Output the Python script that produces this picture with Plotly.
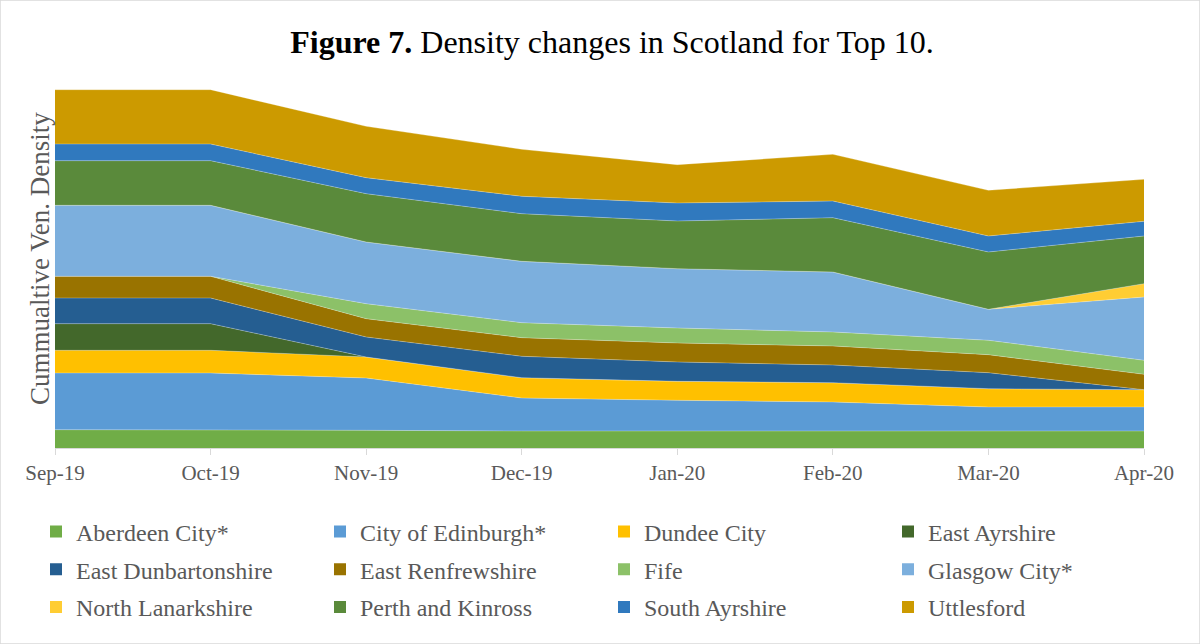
import plotly.graph_objects as go

# Months on the x axis
months = ["Sep-19", "Oct-19", "Nov-19", "Dec-19", "Jan-20", "Feb-20", "Mar-20", "Apr-20"]

# Ven. density per area, stacked bottom to top in this order
aberdeen_city = [18.3, 18.3, 17.7, 17.0, 17.0, 17.7, 17.7, 17.0]
city_of_edinburgh = [56.7, 56.7, 52.3, 33.0, 30.7, 28.3, 23.3, 24.0]
dundee_city = [22.7, 22.7, 21.0, 20.3, 19.0, 19.3, 18.3, 17.3]
east_ayrshire = [26.6, 26.6, 0.0, 0.0, 0.0, 0.0, 0.0, 0.0]
east_dunbartonshire = [25.7, 25.7, 20.0, 21.4, 19.3, 17.7, 16.0, 0.0]
east_renfrewshire = [21.7, 21.7, 18.3, 18.6, 19.0, 19.0, 18.0, 15.4]
fife = [0.0, 0.0, 15.0, 15.0, 15.0, 14.0, 14.4, 14.0]
glasgow_city = [71.0, 71.0, 61.7, 61.4, 59.3, 60.0, 31.0, 63.3]
north_lanarkshire = [0.0, 0.0, 0.0, 0.0, 0.0, 0.0, 0.0, 13.3]
perth_and_kinross = [44.6, 44.6, 48.3, 47.6, 47.7, 54.3, 57.3, 47.7]
south_ayrshire = [16.7, 16.7, 16.0, 17.4, 18.0, 16.7, 16.0, 14.7]
uttlesford = [54.3, 54.3, 51.4, 47.0, 38.3, 46.7, 45.7, 42.0]

series = [
    ("Aberdeen City*", aberdeen_city, "#70AD47"),
    ("City of Edinburgh*", city_of_edinburgh, "#5B9BD5"),
    ("Dundee City", dundee_city, "#FFC000"),
    ("East Ayrshire", east_ayrshire, "#43682B"),
    ("East Dunbartonshire", east_dunbartonshire, "#255E91"),
    ("East Renfrewshire", east_renfrewshire, "#997300"),
    ("Fife", fife, "#8CC168"),
    ("Glasgow City*", glasgow_city, "#7CAFDD"),
    ("North Lanarkshire", north_lanarkshire, "#FFCD33"),
    ("Perth and Kinross", perth_and_kinross, "#5A8A3B"),
    ("South Ayrshire", south_ayrshire, "#3079BE"),
    ("Uttlesford", uttlesford, "#CC9A00"),
]

SERIF = "Liberation Serif, Times New Roman, serif"
GREY_TEXT = "#595959"
AXIS_GREY = "#D9D9D9"

# Figure geometry (px)
W, H = 1200, 644
M_L, M_R, M_T, M_B = 55, 56, 60, 196
PW, PH = W - M_L - M_R, H - M_T - M_B
BASE_Y = H - M_B

fig = go.Figure()

# Stacked areas
for name, vals, color in series:
    fig.add_trace(go.Scatter(
        x=months, y=vals, name=name, mode="lines",
        stackgroup="density", legendgroup=name, showlegend=False,
        line=dict(width=0.6, color="rgba(255,255,255,0.45)"),
        fillcolor=color,
    ))

# Square legend keys, four per row, one legend per row
legend_ids = ["legend", "legend2", "legend3"]
for i, (name, vals, color) in enumerate(series):
    fig.add_trace(go.Scatter(
        x=[None], y=[None], name=name, mode="markers", legendgroup=name,
        legend=legend_ids[i // 4],
        marker=dict(symbol="square", size=12, color=color),
    ))

row_centers = [533, 570.7, 608.3]
legend_style = dict(
    orientation="h", xref="paper", yref="paper",
    x=(36 - M_L) / PW, xanchor="left", yanchor="top",
    entrywidth=239, entrywidthmode="pixels",
    font=dict(family=SERIF, size=24, color=GREY_TEXT),
    traceorder="normal", bgcolor="rgba(0,0,0,0)",
)
legends = {}
for lid, cy in zip(legend_ids, row_centers):
    legends[lid] = dict(legend_style, y=(BASE_Y - (cy - 23.5)) / PH)

fig.update_layout(
    width=W, height=H,
    margin=dict(l=M_L, r=M_R, t=M_T, b=M_B),
    paper_bgcolor="white", plot_bgcolor="white",
    title=dict(
        text="<b>Figure 7.</b> Density changes in Scotland for Top 10.",
        font=dict(family=SERIF, size=32, color="black"),
        x=0.51, xanchor="center", xref="container",
        y=1 - 42 / H, yanchor="middle", yref="container",
    ),
    xaxis=dict(
        type="category", range=[0, 7],
        showline=True, linecolor=AXIS_GREY, linewidth=1,
        ticks="outside", ticklen=6, tickcolor=AXIS_GREY,
        tickfont=dict(family=SERIF, size=21, color=GREY_TEXT),
        showgrid=False, zeroline=False,
    ),
    yaxis=dict(
        range=[0, PH], showticklabels=False, showgrid=False,
        zeroline=False, showline=False,
    ),
    annotations=[dict(
        text="Cummualtive Ven. Density", textangle=-90,
        xref="paper", yref="paper",
        x=(40 - M_L) / PW, y=(BASE_Y - 259) / PH,
        xanchor="center", yanchor="middle", showarrow=False,
        font=dict(family=SERIF, size=27, color=GREY_TEXT),
    )],
    showlegend=True,
    shapes=[dict(type="rect", xref="paper", yref="paper",
                 x0=-M_L / PW, x1=1 + M_R / PW, y0=-M_B / PH, y1=1 + M_T / PH,
                 line=dict(color=AXIS_GREY, width=1.5), fillcolor="rgba(0,0,0,0)",
                 layer="below")],
    **legends,
)

fig.write_html("out.html")
